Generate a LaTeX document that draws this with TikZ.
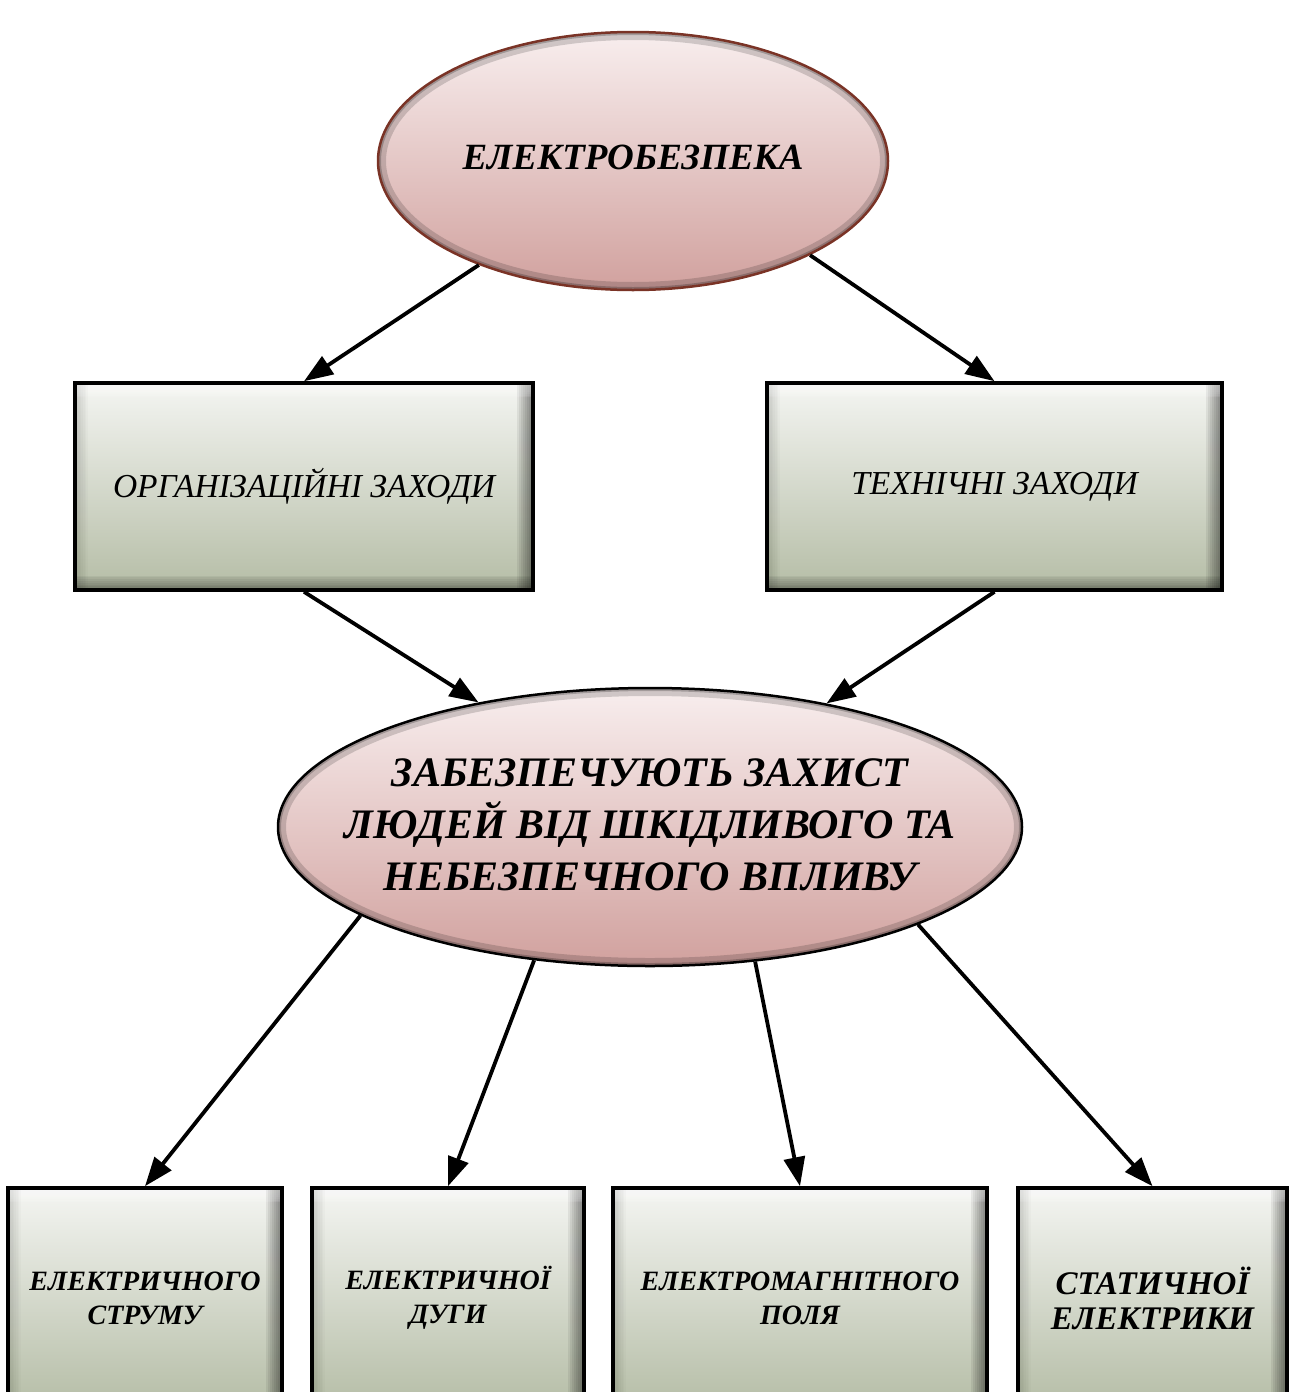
\documentclass[tikz,border=0pt]{standalone}
\usepackage{fontspec}
\setmainfont{Liberation Serif}
\usetikzlibrary{arrows.meta,shapes.geometric}
\definecolor{boxtop}{HTML}{F4F5F2}
\definecolor{boxbot}{HTML}{B5BDA6}
\definecolor{elltop}{HTML}{F8EEEE}
\definecolor{ellbot}{HTML}{D1A19E}
\definecolor{ellrim}{HTML}{7A3326}
\begin{document}
\begin{tikzpicture}[x=1pt,y=-1pt,
  stepbox/.style={rectangle, draw=black, line width=3.6pt, top color=boxtop, bottom color=boxbot,
    inner sep=0pt, align=center,
    path picture={
      \foreach \i in {1,...,8}{
        \fill[black, opacity=0.065] ([xshift=-2*\i pt]path picture bounding box.north east) rectangle (path picture bounding box.south east);
        \fill[black, opacity=0.05] ([yshift=1.8*\i pt]path picture bounding box.south west) rectangle (path picture bounding box.south east);
        \fill[white, opacity=0.1] (path picture bounding box.north west) rectangle ([yshift=-1.8*\i pt]path picture bounding box.north east);
        \fill[black, opacity=0.02] (path picture bounding box.north west) rectangle ([xshift=1.6*\i pt]path picture bounding box.south west);
      }
    }},
  ovalbox/.style n args={3}{ellipse, draw=#3, line width=2.5pt, top color=elltop, bottom color=ellbot,
    inner sep=0pt, minimum width=#1, minimum height=#2,
    path picture={
      \draw[line width=16pt, black, opacity=0.16] (path picture bounding box.center) ellipse [x radius=#1/2, y radius=#2/2];
      \draw[line width=6pt, black, opacity=0.22] (path picture bounding box.center) ellipse [x radius=#1/2, y radius=#2/2];
    }},
  conn/.style={line width=3.8pt, -{Triangle[length=29pt, width=21pt]}},
  lbl/.style={inner sep=0pt, align=center},
  bottxt/.style={font=\fontsize{28}{34}\selectfont\bfseries\itshape}
]
\useasboundingbox (0,0) rectangle (1291,1392);
\fill[white] (0,0) rectangle (1291,1392);

% top ellipse
\node[ovalbox={510pt}{258pt}{ellrim}] (top) at (633,161) {};
\node[lbl, font=\fontsize{37}{44}\selectfont\bfseries\itshape] (toptxt) at (633,157) {ЕЛЕКТРОБЕЗПЕКА};

% middle boxes
\node[stepbox, minimum width=458pt, minimum height=207pt, font=\fontsize{33.5}{40}\selectfont\itshape] (org) at (304,486.5) {ОРГАНІЗАЦІЙНІ ЗАХОДИ};
\node[stepbox, minimum width=455pt, minimum height=207pt, font=\fontsize{33.5}{40}\selectfont\itshape] (tech) at (994.5,486.5) {ТЕХНІЧНІ ЗАХОДИ};

% middle ellipse
\node[ovalbox={744pt}{278pt}{black}] (mid) at (650,827) {};
\node[lbl, font=\fontsize{42}{52}\selectfont\bfseries\itshape] (midtxt) at (650,825) {ЗАБЕЗПЕЧУЮТЬ ЗАХИСТ\\ЛЮДЕЙ ВІД ШКІДЛИВОГО ТА\\НЕБЕЗПЕЧНОГО ВПЛИВУ};

% bottom boxes
\node[stepbox, bottxt, minimum width=274pt, minimum height=220pt] (b1) at (145,1298) {ЕЛЕКТРИЧНОГО\\СТРУМУ};
\node[stepbox, bottxt, minimum width=272pt, minimum height=220pt] (b2) at (448,1298) {ЕЛЕКТРИЧНОЇ\\ДУГИ};
\node[stepbox, bottxt, minimum width=374pt, minimum height=220pt] (b3) at (800,1298) {ЕЛЕКТРОМАГНІТНОГО\\ПОЛЯ};
\node[stepbox, minimum width=269pt, minimum height=220pt, font=\fontsize{33}{35}\selectfont\bfseries\itshape] (b4) at (1152.5,1298) {СТАТИЧНОЇ\\ЕЛЕКТРИКИ};

% connectors
\draw[conn] (top.214.7) -- (org.north);
\draw[conn] (top.332.5) -- (tech.north);
\draw[conn] (org.south) -- (mid.144.2);
\draw[conn] (tech.south) -- (mid.35.3);
\draw[conn] (mid.197.2) -- (b1.north);
\draw[conn] (mid.229.8) -- (b2.north);
\draw[conn] (mid.308.8) -- (b3.north);
\draw[conn] (mid.340.3) -- (b4.north);
\end{tikzpicture}
\end{document}
